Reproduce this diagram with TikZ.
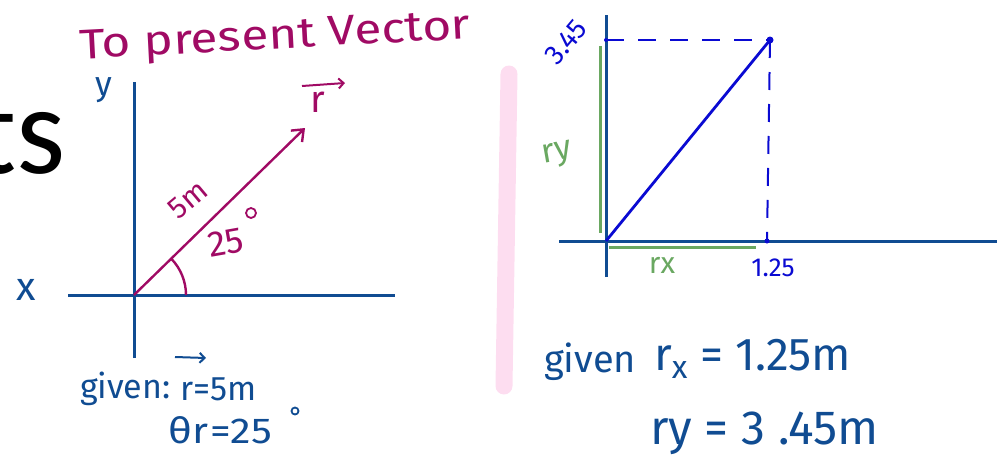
\documentclass[tikz,border=0pt]{standalone}
\usepackage{fontspec}
\setmainfont{Fira Sans}
\newfontfamily\bigsans{Carlito}
\usetikzlibrary{arrows.meta}
\definecolor{axisblue}{RGB}{16,76,146}
\definecolor{vecmag}{RGB}{160,10,100}
\definecolor{vecblue}{RGB}{10,10,210}
\definecolor{compgreen}{RGB}{106,168,97}
\definecolor{barpink}{RGB}{253,221,240}
\tikzset{
  axis/.style={draw=axisblue, line width=3pt},
  magvec/.style={draw=vecmag, line width=2.4pt, -{Straight Barb[length=10pt,width=16pt]}},
  bluevec/.style={draw=vecblue, line width=2.8pt},
  dashguide/.style={draw=vecblue, line width=2pt, dash pattern=on 18pt off 14pt},
  comp/.style={draw=compgreen, line width=3pt},
  hw/.style={inner sep=0pt, outer sep=0pt},
  magtext/.style={hw, text=vecmag},
  bluetext/.style={hw, text=axisblue},
  vtext/.style={hw, text=vecblue},
  gtext/.style={hw, text=compgreen},
  overarrow/.style={line width=2pt, -{Straight Barb[length=5pt,width=10pt]}},
}
\begin{document}
\begin{tikzpicture}[x=1pt,y=-1pt]
\useasboundingbox (0,0) rectangle (997,456);
\clip (0,0) rectangle (997,456);

% big black partial title
\node[hw, anchor=base east, font=\bigsans\fontsize{126}{126}\selectfont] (ts) at (66,173) {ts};

% heading
\node[magtext, anchor=base west, rotate=3, font=\fontsize{42}{42}\selectfont, xscale=1.18] (head) at (80,59) {To present Vector};

% ---------- left diagram ----------
\coordinate (O1) at (134,295);
\coordinate (ytop1) at (134,82);
\coordinate (ybot1) at (134,358);
\coordinate (xl1) at (68,295);
\coordinate (xr1) at (395,295);
\coordinate (tip1) at (305,128);
\draw[axis] (ybot1) -- (ytop1);
\draw[axis] (xl1) -- (xr1);
\draw[magvec] (O1) -- (tip1);
\draw[draw=vecmag, line width=2.4pt] (186,295) arc[start angle=0, end angle=-44, radius=52];

\node[bluetext, font=\fontsize{34}{34}\selectfont] (ylab) at (104,90) {y};
\node[bluetext, font=\fontsize{40}{40}\selectfont] (xlab) at (26,290) {x};

\node[magtext, font=\fontsize{38}{38}\selectfont] (rlab) at (318,102) {r};
\coordinate (ra1) at (302,86);
\coordinate (ra2) at (345,83);
\draw[overarrow, draw=vecmag] (ra1) -- (ra2);

\node[magtext, rotate=40, font=\fontsize{30}{30}\selectfont] (five) at (188,200) {5m};
\node[magtext, rotate=10, font=\fontsize{36}{36}\selectfont] (ang) at (226,243) {25};
\node[draw=vecmag, line width=1.8pt, circle, minimum size=10pt, inner sep=0pt] (deg1) at (251,213) {};

\node[bluetext, anchor=base west, font=\fontsize{34}{34}\selectfont] (given1) at (80,398) {given:};
\node[bluetext, anchor=base west, font=\fontsize{34}{34}\selectfont] (rval) at (180,400) {r=5m};
\coordinate (rb1) at (175,357);
\coordinate (rb2) at (206,358);
\draw[overarrow, draw=axisblue] (rb1) -- (rb2);
\node[bluetext, anchor=base west, font=\fontsize{36}{36}\selectfont, xscale=1.15] (theta) at (168,443) {θ\kern1pt r\kern1pt=25};
\node[draw=axisblue, line width=1.8pt, circle, minimum size=7pt, inner sep=0pt] (deg2) at (295,411) {};

% pink separator
\coordinate (p1) at (509,74);
\coordinate (p2) at (504,386);
\draw[draw=barpink, line width=17pt, line cap=round] (p1) -- (p2);

% ---------- right diagram ----------
\coordinate (O2) at (606,241);
\coordinate (ytop2) at (606,15);
\coordinate (ybot2) at (606,277);
\coordinate (xl2) at (559,241);
\coordinate (xr2) at (997,241);
\coordinate (tip2) at (770,40);
\coordinate (yt2) at (606,40);
\coordinate (xt2) at (767,241);
\draw[comp] (600,46) -- (600,233);
\draw[comp] (609,247) -- (756,247);
\draw[axis] (ybot2) -- (ytop2);
\draw[axis] (xl2) -- (xr2);
\draw[dashguide] (yt2) -- (tip2);
\draw[dashguide] (tip2) -- (xt2);
\draw[bluevec] (O2) -- (tip2);
\fill[vecblue] (tip2) circle (3.5pt);
\fill[vecblue] (yt2) circle (2pt);
\fill[vecblue] (xt2) circle (2.5pt);

\node[vtext, rotate=50, font=\fontsize{28}{28}\selectfont] (v345) at (566,42) {3.45};
\node[vtext, font=\fontsize{26}{26}\selectfont] (v125) at (773,268) {1.25};
\node[gtext, rotate=10, font=\fontsize{34}{34}\selectfont] (ry) at (557,155) {ry};
\node[gtext, font=\fontsize{30}{30}\selectfont] (rx) at (662,265) {rx};

\node[bluetext, anchor=base west, font=\fontsize{38}{38}\selectfont] (given2) at (544,372) {given};
\node[bluetext, anchor=base west, font=\fontsize{46}{46}\selectfont] (eqx) at (654,370) {r\textsubscript{x} = 1.25m};
\node[bluetext, anchor=base west, font=\fontsize{48}{48}\selectfont] (eqy) at (650,444) {ry = 3 .45m};
\end{tikzpicture}
\end{document}
